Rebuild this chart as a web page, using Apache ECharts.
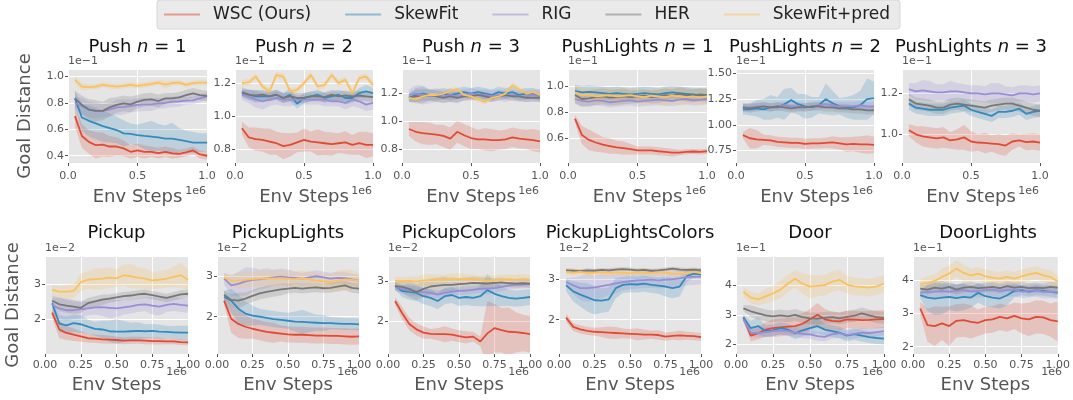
<!DOCTYPE html>
<html><head><meta charset="utf-8">
<script src="https://cdn.jsdelivr.net/npm/echarts@6/dist/echarts.min.js"></script>
<style>html,body{margin:0;padding:0;background:#fff}#c{width:1073px;height:400px}</style>
</head><body><div id="c"></div><script>
// ---------- data ----------
const xSteps = [0.05,0.10,0.15,0.20,0.25,0.30,0.35,0.40,0.45,0.50,0.55,0.60,0.65,0.70,0.75,0.80,0.85,0.90,0.95,1.00];
const methods = ['WSC (Ours)','SkewFit','RIG','HER','SkewFit+pred'];
const panelTitles = ['Push {i|n} = 1','Push {i|n} = 2','Push {i|n} = 3','PushLights {i|n} = 1','PushLights {i|n} = 2','PushLights {i|n} = 3',
  'Pickup','PickupLights','PickupColors','PickupLightsColors','Door','DoorLights'];
const yTickValues = [[0.4,0.6,0.8,1.0],[0.8,1.0,1.2],[0.8,1.0,1.2],[0.6,0.8,1.0],[0.75,1.0,1.25,1.5],[1.0,1.2],
  [2,3],[2,3],[2,3],[2,3],[2,3,4],[2,3,4]];
const yTickDecimals = [1,1,1,1,2,1,0,0,0,0,0,0];
const yOffsetLabels = ['1e\u22121','1e\u22121','1e\u22121','1e\u22121','1e\u22121','1e\u22121','1e\u22122','1e\u22122','1e\u22122','1e\u22122','1e\u22121','1e\u22121'];

// rows: WSC, SkewFit, RIG, HER, SkewFit+pred
const push1Mean = [
 [0.70,0.55,0.505,0.48,0.485,0.47,0.47,0.456,0.43,0.44,0.43,0.43,0.42,0.43,0.418,0.415,0.425,0.44,0.41,0.40],
 [0.835,0.69,0.665,0.645,0.625,0.61,0.595,0.57,0.565,0.557,0.55,0.545,0.54,0.53,0.53,0.52,0.51,0.50,0.50,0.50],
 [0.80,0.777,0.75,0.74,0.74,0.75,0.767,0.77,0.777,0.785,0.79,0.79,0.797,0.80,0.81,0.812,0.818,0.82,0.835,0.85],
 [0.835,0.785,0.75,0.74,0.74,0.767,0.785,0.797,0.79,0.81,0.823,0.828,0.815,0.835,0.835,0.843,0.86,0.873,0.86,0.853],
 [0.975,0.924,0.92,0.924,0.937,0.93,0.924,0.93,0.937,0.93,0.937,0.944,0.955,0.94,0.95,0.955,0.937,0.95,0.955,0.955]];
const push1Spread = [
 [0.08,0.09,0.09,0.10,0.09,0.08,0.07,0.06,0.05,0.05,0.05,0.04,0.04,0.04,0.04,0.03,0.03,0.03,0.03,0.03],
 [0.06,0.10,0.12,0.12,0.12,0.11,0.10,0.10,0.08,0.08,0.10,0.12,0.10,0.10,0.12,0.09,0.08,0.08,0.07,0.07],
 [0.05,0.06,0.06,0.06,0.05,0.05,0.06,0.06,0.05,0.05,0.05,0.05,0.04,0.04,0.04,0.04,0.03,0.03,0.03,0.03],
 [0.06,0.07,0.08,0.08,0.07,0.07,0.06,0.06,0.06,0.05,0.05,0.05,0.05,0.04,0.04,0.04,0.04,0.04,0.04,0.04],
 [0.03,0.03,0.02,0.02,0.02,0.02,0.02,0.02,0.02,0.02,0.02,0.02,0.02,0.03,0.02,0.02,0.02,0.02,0.02,0.02]];

const push2Mean = [
 [0.926,0.87,0.86,0.855,0.845,0.835,0.818,0.825,0.84,0.855,0.845,0.84,0.835,0.83,0.835,0.84,0.825,0.835,0.825,0.825],
 [1.14,1.13,1.12,1.12,1.12,1.13,1.11,1.13,1.075,1.11,1.12,1.13,1.11,1.12,1.13,1.11,1.11,1.14,1.15,1.14],
 [1.13,1.12,1.10,1.09,1.10,1.11,1.10,1.10,1.10,1.10,1.10,1.10,1.10,1.09,1.09,1.08,1.10,1.09,1.07,1.08],
 [1.145,1.13,1.125,1.13,1.12,1.13,1.11,1.12,1.11,1.11,1.12,1.12,1.115,1.13,1.12,1.125,1.12,1.125,1.12,1.115],
 [1.20,1.205,1.24,1.18,1.15,1.25,1.24,1.15,1.16,1.20,1.25,1.18,1.19,1.25,1.20,1.22,1.14,1.23,1.24,1.19]];
const push2Spread = [
 [0.04,0.06,0.07,0.07,0.08,0.07,0.08,0.07,0.06,0.07,0.06,0.08,0.07,0.07,0.06,0.07,0.06,0.07,0.08,0.07],
 [0.02,0.03,0.04,0.03,0.03,0.03,0.03,0.04,0.03,0.03,0.03,0.03,0.03,0.03,0.03,0.04,0.03,0.03,0.04,0.03],
 [0.03,0.04,0.05,0.05,0.04,0.04,0.04,0.04,0.03,0.03,0.03,0.03,0.04,0.03,0.03,0.04,0.04,0.04,0.04,0.04],
 [0.03,0.03,0.03,0.03,0.03,0.03,0.03,0.03,0.03,0.03,0.03,0.03,0.03,0.03,0.03,0.03,0.03,0.03,0.03,0.03],
 [0.02,0.02,0.02,0.02,0.02,0.02,0.02,0.02,0.02,0.02,0.02,0.02,0.02,0.02,0.02,0.02,0.02,0.02,0.02,0.02]];

const push3Mean = [
 [0.945,0.925,0.915,0.91,0.905,0.895,0.875,0.925,0.90,0.88,0.87,0.87,0.865,0.865,0.87,0.885,0.875,0.87,0.865,0.855],
 [1.17,1.19,1.20,1.19,1.19,1.20,1.19,1.20,1.21,1.20,1.21,1.20,1.19,1.21,1.20,1.21,1.19,1.20,1.20,1.19],
 [1.19,1.20,1.19,1.18,1.19,1.18,1.19,1.18,1.19,1.20,1.19,1.19,1.18,1.19,1.18,1.19,1.18,1.18,1.19,1.18],
 [1.17,1.18,1.18,1.19,1.18,1.17,1.18,1.17,1.18,1.18,1.19,1.18,1.17,1.18,1.19,1.18,1.18,1.17,1.17,1.17],
 [1.17,1.16,1.18,1.19,1.19,1.20,1.22,1.23,1.19,1.18,1.16,1.14,1.17,1.18,1.20,1.26,1.23,1.20,1.21,1.19]];
const push3Spread = [
 [0.05,0.07,0.08,0.08,0.07,0.08,0.08,0.08,0.08,0.08,0.07,0.08,0.08,0.07,0.07,0.07,0.07,0.07,0.08,0.08],
 [0.03,0.05,0.05,0.04,0.04,0.04,0.04,0.04,0.04,0.04,0.04,0.04,0.04,0.04,0.04,0.04,0.04,0.04,0.04,0.04],
 [0.04,0.06,0.07,0.05,0.05,0.04,0.05,0.04,0.04,0.04,0.04,0.04,0.04,0.04,0.04,0.04,0.04,0.04,0.04,0.04],
 [0.03,0.05,0.05,0.04,0.04,0.04,0.04,0.04,0.03,0.03,0.03,0.03,0.03,0.03,0.03,0.03,0.03,0.03,0.03,0.03],
 [0.02,0.02,0.02,0.02,0.02,0.02,0.02,0.02,0.02,0.02,0.02,0.02,0.02,0.02,0.02,0.02,0.02,0.02,0.02,0.02]];

const pushLights1Mean = [
 [0.75,0.625,0.587,0.567,0.55,0.54,0.53,0.524,0.516,0.506,0.506,0.506,0.50,0.495,0.49,0.49,0.495,0.498,0.495,0.50],
 [0.96,0.95,0.955,0.95,0.945,0.94,0.945,0.94,0.935,0.94,0.945,0.94,0.935,0.945,0.95,0.945,0.94,0.935,0.93,0.93],
 [0.90,0.885,0.88,0.89,0.885,0.875,0.88,0.885,0.89,0.88,0.885,0.89,0.895,0.89,0.885,0.895,0.90,0.89,0.895,0.90],
 [0.93,0.90,0.905,0.915,0.92,0.91,0.915,0.92,0.915,0.92,0.925,0.915,0.92,0.93,0.925,0.94,0.93,0.925,0.935,0.93],
 [0.95,0.93,0.935,0.92,0.925,0.93,0.92,0.925,0.93,0.92,0.915,0.925,0.92,0.915,0.925,0.92,0.915,0.92,0.91,0.92]];
const pushLights1Spread = [
 [0.03,0.07,0.08,0.07,0.06,0.06,0.05,0.05,0.04,0.03,0.03,0.03,0.03,0.03,0.03,0.02,0.02,0.02,0.02,0.02],
 [0.05,0.05,0.05,0.05,0.05,0.05,0.05,0.05,0.05,0.05,0.05,0.05,0.05,0.05,0.05,0.05,0.05,0.05,0.05,0.05],
 [0.04,0.04,0.04,0.04,0.04,0.04,0.04,0.04,0.04,0.04,0.04,0.04,0.04,0.04,0.04,0.04,0.04,0.04,0.04,0.04],
 [0.06,0.06,0.06,0.06,0.06,0.06,0.06,0.06,0.05,0.05,0.05,0.05,0.05,0.05,0.05,0.05,0.05,0.05,0.05,0.05],
 [0.06,0.06,0.05,0.06,0.06,0.05,0.06,0.06,0.05,0.06,0.06,0.05,0.06,0.07,0.06,0.07,0.06,0.05,0.06,0.06]];

const pushLights2Mean = [
 [0.90,0.87,0.86,0.855,0.85,0.835,0.83,0.825,0.825,0.815,0.82,0.82,0.825,0.83,0.82,0.81,0.815,0.81,0.81,0.805],
 [1.15,1.15,1.16,1.15,1.17,1.17,1.20,1.24,1.20,1.18,1.17,1.19,1.25,1.21,1.18,1.17,1.17,1.19,1.25,1.26],
 [1.17,1.17,1.18,1.18,1.17,1.18,1.19,1.18,1.18,1.17,1.18,1.19,1.20,1.19,1.18,1.18,1.18,1.19,1.18,1.18],
 [1.17,1.16,1.17,1.18,1.17,1.18,1.17,1.16,1.17,1.17,1.18,1.18,1.17,1.17,1.16,1.16,1.15,1.15,1.14,1.14],
 null];
const pushLights2Spread = [
 [0.03,0.10,0.09,0.05,0.05,0.05,0.05,0.05,0.05,0.05,0.05,0.05,0.05,0.06,0.06,0.07,0.07,0.08,0.09,0.08],
 [0.05,0.06,0.08,0.10,0.12,0.10,0.15,0.12,0.10,0.12,0.10,0.08,0.15,0.12,0.08,0.10,0.12,0.14,0.20,0.16],
 [0.04,0.04,0.04,0.04,0.04,0.04,0.04,0.04,0.04,0.04,0.04,0.04,0.04,0.04,0.04,0.04,0.04,0.04,0.04,0.04],
 [0.04,0.04,0.04,0.04,0.04,0.04,0.04,0.04,0.04,0.04,0.04,0.04,0.04,0.04,0.04,0.04,0.04,0.04,0.04,0.04],
 null];

const pushLights3Mean = [
 [1.02,1.00,0.99,0.985,0.98,0.985,0.97,0.975,0.985,0.965,0.96,0.958,0.955,0.952,0.945,0.965,0.97,0.962,0.965,0.96],
 [1.15,1.13,1.125,1.12,1.12,1.12,1.13,1.135,1.14,1.12,1.11,1.10,1.09,1.11,1.11,1.115,1.125,1.10,1.11,1.115],
 [1.22,1.21,1.215,1.21,1.205,1.205,1.21,1.21,1.205,1.20,1.20,1.195,1.20,1.20,1.195,1.19,1.20,1.20,1.195,1.20],
 [1.17,1.15,1.145,1.14,1.13,1.13,1.145,1.15,1.145,1.14,1.135,1.13,1.14,1.145,1.15,1.15,1.14,1.13,1.12,1.115],
 null];
const pushLights3Spread = [
 [0.03,0.04,0.05,0.05,0.05,0.05,0.04,0.05,0.06,0.05,0.04,0.05,0.04,0.05,0.05,0.04,0.03,0.04,0.04,0.04],
 [0.03,0.03,0.03,0.03,0.03,0.03,0.03,0.03,0.03,0.03,0.03,0.03,0.03,0.03,0.03,0.03,0.03,0.03,0.03,0.03],
 [0.03,0.04,0.05,0.05,0.04,0.04,0.05,0.04,0.04,0.04,0.04,0.04,0.05,0.05,0.04,0.04,0.04,0.04,0.04,0.04],
 [0.03,0.03,0.03,0.03,0.03,0.03,0.03,0.03,0.03,0.03,0.03,0.03,0.03,0.03,0.03,0.03,0.03,0.03,0.03,0.03],
 null];

const pickupMean = [
 [2.18,1.70,1.60,1.55,1.50,1.45,1.44,1.42,1.41,1.40,1.38,1.39,1.39,1.38,1.37,1.37,1.36,1.36,1.34,1.33],
 [2.45,1.87,1.82,1.88,1.85,1.78,1.72,1.70,1.65,1.64,1.64,1.65,1.66,1.65,1.66,1.64,1.63,1.62,1.61,1.61],
 [2.40,2.30,2.25,2.25,2.28,2.30,2.33,2.34,2.32,2.30,2.33,2.36,2.40,2.42,2.38,2.35,2.40,2.43,2.40,2.38],
 [2.52,2.42,2.38,2.35,2.32,2.45,2.50,2.55,2.58,2.62,2.65,2.67,2.70,2.72,2.68,2.64,2.60,2.65,2.70,2.72],
 [2.83,2.78,2.78,2.80,3.05,3.12,3.14,3.15,3.18,3.16,3.25,3.22,3.18,3.15,3.10,3.12,3.15,3.20,3.25,3.12]];
const pickupSpread = [
 [0.15,0.25,0.20,0.18,0.15,0.12,0.12,0.12,0.12,0.10,0.10,0.10,0.10,0.10,0.10,0.10,0.08,0.08,0.08,0.08],
 [0.10,0.25,0.25,0.25,0.25,0.20,0.20,0.25,0.30,0.35,0.30,0.25,0.25,0.20,0.20,0.20,0.18,0.18,0.20,0.20],
 [0.20,0.30,0.30,0.25,0.25,0.20,0.20,0.25,0.30,0.25,0.20,0.20,0.20,0.20,0.25,0.25,0.20,0.20,0.20,0.20],
 [0.15,0.20,0.20,0.20,0.15,0.15,0.15,0.15,0.12,0.12,0.12,0.12,0.12,0.12,0.12,0.12,0.12,0.12,0.12,0.12],
 [0.15,0.15,0.20,0.20,0.25,0.25,0.30,0.30,0.30,0.25,0.30,0.35,0.30,0.30,0.25,0.25,0.25,0.30,0.35,0.30]];

const pickupLightsMean = [
 [2.40,1.95,1.82,1.75,1.70,1.66,1.62,1.60,1.58,1.56,1.55,1.55,1.54,1.53,1.53,1.52,1.52,1.51,1.50,1.51],
 [2.50,2.40,2.20,2.08,2.03,2.00,1.97,1.94,1.92,1.90,1.88,1.87,1.86,1.85,1.84,1.84,1.83,1.82,1.82,1.81],
 [2.95,2.78,2.82,2.88,2.92,2.93,2.96,2.98,3.00,2.98,2.97,2.95,2.98,3.01,2.98,2.95,2.97,2.96,2.93,2.90],
 [2.55,2.42,2.40,2.45,2.52,2.58,2.62,2.65,2.68,2.70,2.72,2.70,2.72,2.73,2.71,2.72,2.75,2.78,2.72,2.70],
 [2.98,2.90,2.90,2.92,2.94,2.95,2.96,2.95,2.96,2.95,2.94,2.96,2.93,2.90,2.88,2.86,2.90,2.93,2.92,2.90]];
const pickupLightsSpread = [
 [0.10,0.35,0.35,0.30,0.25,0.25,0.25,0.25,0.20,0.20,0.20,0.20,0.20,0.20,0.20,0.20,0.20,0.20,0.20,0.20],
 [0.15,0.30,0.35,0.30,0.25,0.20,0.20,0.20,0.20,0.20,0.25,0.30,0.25,0.20,0.20,0.15,0.15,0.15,0.15,0.15],
 [0.15,0.25,0.30,0.35,0.30,0.25,0.25,0.20,0.20,0.20,0.15,0.15,0.15,0.15,0.15,0.15,0.15,0.15,0.15,0.15],
 [0.10,0.15,0.20,0.15,0.15,0.15,0.15,0.15,0.15,0.12,0.12,0.12,0.12,0.12,0.12,0.12,0.12,0.12,0.12,0.12],
 [0.10,0.15,0.20,0.20,0.20,0.20,0.20,0.20,0.20,0.20,0.20,0.20,0.20,0.20,0.20,0.20,0.25,0.25,0.25,0.20]];

const pickupColorsMean = [
 [2.50,2.20,1.93,1.80,1.72,1.69,1.68,1.68,1.67,1.63,1.60,1.62,1.50,1.70,1.83,1.78,1.74,1.73,1.71,1.68],
 [2.88,2.75,2.73,2.70,2.62,2.58,2.50,2.62,2.65,2.58,2.60,2.58,2.62,2.77,2.68,2.62,2.58,2.56,2.58,2.60],
 [2.85,2.80,2.76,2.74,2.72,2.70,2.66,2.70,2.73,2.75,2.76,2.78,2.80,2.81,2.82,2.85,2.88,2.90,2.91,2.92],
 [2.87,2.85,2.80,2.72,2.80,2.86,2.88,2.90,2.90,2.92,2.93,2.95,2.94,2.93,2.95,2.96,2.94,2.93,2.94,2.93],
 [3.00,2.99,3.00,2.98,3.01,3.02,3.03,3.04,3.06,3.04,3.05,3.04,3.02,3.00,3.02,3.03,3.04,3.03,3.05,3.03]];
const pickupColorsSpread = [
 [0.10,0.15,0.15,0.15,0.15,0.12,0.15,0.20,0.15,0.15,0.15,0.12,0.12,0.80,0.60,0.55,0.60,0.50,0.45,0.45],
 [0.10,0.15,0.20,0.20,0.20,0.20,0.20,0.20,0.20,0.20,0.20,0.20,0.25,0.40,0.30,0.25,0.20,0.20,0.20,0.20],
 [0.10,0.10,0.12,0.12,0.10,0.10,0.10,0.10,0.10,0.10,0.10,0.10,0.10,0.15,0.12,0.10,0.10,0.10,0.10,0.10],
 [0.10,0.15,0.20,0.20,0.20,0.20,0.20,0.20,0.15,0.15,0.15,0.15,0.15,0.15,0.12,0.12,0.10,0.10,0.10,0.10],
 [0.10,0.10,0.10,0.12,0.15,0.15,0.12,0.12,0.12,0.15,0.12,0.12,0.10,0.15,0.12,0.12,0.12,0.12,0.12,0.12]];

const pickupLightsColorsMean = [
 [2.05,1.82,1.76,1.72,1.70,1.69,1.68,1.67,1.66,1.65,1.64,1.63,1.63,1.62,1.58,1.60,1.61,1.60,1.59,1.57],
 [2.85,2.70,2.62,2.55,2.48,2.47,2.50,2.78,2.86,2.88,2.87,2.89,2.86,2.84,2.82,2.78,2.82,3.08,3.14,3.12],
 [2.93,2.85,2.78,2.78,2.80,2.83,2.86,2.90,2.93,2.95,2.97,2.98,2.99,2.97,2.99,3.00,3.02,3.05,3.06,3.07],
 [3.22,3.21,3.20,3.22,3.21,3.23,3.22,3.24,3.25,3.24,3.22,3.23,3.21,3.22,3.24,3.26,3.24,3.23,3.24,3.22],
 [3.18,3.16,3.18,3.15,3.16,3.17,3.15,3.17,3.16,3.15,3.17,3.16,3.15,3.17,3.16,3.14,3.13,3.16,3.18,3.15]];
const pickupLightsColorsSpread = [
 [0.10,0.10,0.10,0.10,0.10,0.12,0.15,0.15,0.12,0.12,0.15,0.12,0.10,0.12,0.10,0.10,0.12,0.10,0.10,0.10],
 [0.15,0.25,0.30,0.35,0.35,0.30,0.30,0.25,0.20,0.20,0.20,0.20,0.20,0.20,0.25,0.25,0.25,0.15,0.10,0.10],
 [0.10,0.20,0.30,0.35,0.30,0.30,0.25,0.25,0.20,0.20,0.20,0.20,0.20,0.20,0.20,0.20,0.20,0.20,0.20,0.20],
 [0.05,0.05,0.05,0.05,0.05,0.05,0.05,0.05,0.05,0.05,0.05,0.05,0.05,0.05,0.05,0.05,0.05,0.05,0.05,0.05],
 [0.08,0.08,0.08,0.08,0.08,0.08,0.08,0.08,0.08,0.08,0.08,0.08,0.08,0.08,0.08,0.08,0.08,0.08,0.08,0.08]];

const doorMean = [
 [2.90,2.30,2.38,2.50,2.55,2.58,2.60,2.62,2.70,2.85,3.00,2.85,2.80,2.78,2.85,2.84,2.82,2.83,2.85,2.86],
 [2.92,2.55,2.62,2.45,2.48,2.55,2.50,2.38,2.48,2.55,2.62,2.50,2.45,2.40,2.30,2.35,2.30,2.25,2.22,2.20],
 [2.85,2.40,2.38,2.42,2.45,2.48,2.46,2.40,2.36,2.34,2.28,2.26,2.35,2.38,2.32,2.36,2.40,2.38,2.42,2.45],
 [3.22,3.12,3.05,2.98,2.95,2.98,2.95,3.00,2.92,2.88,2.87,2.90,2.92,2.88,2.93,2.97,3.05,2.98,2.92,2.90],
 [3.77,3.58,3.52,3.62,3.72,3.85,4.05,4.22,4.05,3.95,3.98,4.00,4.12,4.18,4.02,3.96,3.94,3.92,3.96,4.05]];
const doorSpread = [
 [0.10,0.20,0.20,0.25,0.30,0.30,0.30,0.30,0.35,0.35,0.40,0.35,0.30,0.30,0.30,0.30,0.30,0.30,0.30,0.30],
 [0.10,0.25,0.30,0.20,0.20,0.20,0.20,0.20,0.20,0.25,0.25,0.20,0.20,0.20,0.20,0.20,0.20,0.20,0.20,0.20],
 [0.10,0.15,0.15,0.15,0.15,0.15,0.15,0.15,0.15,0.15,0.15,0.15,0.15,0.15,0.15,0.15,0.15,0.15,0.15,0.15],
 [0.10,0.20,0.20,0.20,0.20,0.20,0.20,0.20,0.20,0.20,0.20,0.20,0.20,0.20,0.20,0.20,0.20,0.20,0.20,0.20],
 [0.15,0.20,0.20,0.25,0.25,0.30,0.30,0.30,0.35,0.40,0.35,0.35,0.35,0.35,0.30,0.30,0.30,0.30,0.30,0.30]];

const doorLightsMean = [
 [3.15,2.65,2.62,2.70,2.62,2.78,2.80,2.75,2.72,2.80,2.82,2.90,2.85,2.93,2.85,2.82,2.90,2.88,2.80,2.76],
 [3.55,3.48,3.45,3.48,3.50,3.46,3.50,3.48,3.62,3.52,3.48,3.45,3.55,3.68,3.70,3.66,3.70,3.68,3.65,3.62],
 [3.62,3.65,3.66,3.68,3.65,3.68,3.70,3.66,3.68,3.70,3.72,3.68,3.70,3.72,3.66,3.68,3.70,3.65,3.66,3.64],
 [3.75,3.72,3.78,3.75,3.80,3.72,3.78,3.80,3.76,3.78,3.80,3.76,3.82,3.78,3.80,3.76,3.78,3.76,3.80,3.78],
 [3.88,3.92,3.98,4.10,4.20,4.35,4.22,4.15,4.20,4.12,4.08,4.05,4.10,4.05,4.12,4.18,4.22,4.15,4.10,3.96]];
const doorLightsSpread = [
 [0.20,0.50,0.60,0.50,0.60,0.50,0.50,0.50,0.40,0.40,0.40,0.40,0.40,0.40,0.45,0.50,0.50,0.50,0.50,0.60],
 [0.10,0.40,0.50,0.50,0.40,0.40,0.40,0.30,0.30,0.30,0.30,0.30,0.30,0.20,0.15,0.15,0.15,0.15,0.15,0.15],
 [0.10,0.20,0.20,0.20,0.20,0.20,0.20,0.20,0.20,0.20,0.20,0.20,0.20,0.20,0.20,0.20,0.20,0.20,0.20,0.20],
 [0.10,0.15,0.15,0.15,0.15,0.15,0.15,0.15,0.15,0.15,0.15,0.15,0.15,0.15,0.15,0.15,0.15,0.15,0.15,0.15],
 [0.15,0.20,0.20,0.25,0.25,0.25,0.25,0.20,0.20,0.20,0.20,0.20,0.20,0.20,0.20,0.20,0.20,0.20,0.20,0.20]];

const panelMeans = [push1Mean,push2Mean,push3Mean,pushLights1Mean,pushLights2Mean,pushLights3Mean,
  pickupMean,pickupLightsMean,pickupColorsMean,pickupLightsColorsMean,doorMean,doorLightsMean];
const panelSpreads = [push1Spread,push2Spread,push3Spread,pushLights1Spread,pushLights2Spread,pushLights3Spread,
  pickupSpread,pickupLightsSpread,pickupColorsSpread,pickupLightsColorsSpread,doorSpread,doorLightsSpread];

// ---------- layout / style ----------
const colors = ['#E24A33','#348ABD','#988ED5','#777777','#FBC15E'];
const boxes = [
 {l:68,t:70,w:139,h:93},{l:235,t:70,w:138,h:93},{l:402,t:70,w:138,h:93},
 {l:568,t:70,w:139,h:93},{l:736,t:70,w:138,h:93},{l:902,t:70,w:138,h:93},
 {l:45,t:257,w:143,h:97},{l:217,t:257,w:142,h:97},{l:388,t:257,w:142,h:97},
 {l:559,t:257,w:142,h:97},{l:736,t:257,w:148,h:97},{l:913,t:257,w:150,h:97}];
const yRange = [[0.345,1.05],[0.715,1.28],[0.70,1.37],[0.41,1.122],[0.63,1.532],[0.86,1.314],
 [1.0,3.77],[1.07,3.49],[1.19,3.59],[1.15,3.55],[1.68,4.95],[1.78,4.70]];
const TXT = '#555555';
const FONT = 'DejaVu Sans';

function bandRenderer(color) {
  return function (params, api) {
    if (params.dataIndex !== 0) return null;
    const n = xSteps.length;
    const upper = [], lower = [];
    for (let i = 0; i < n; i++) {
      upper.push(api.coord([api.value(0, i), api.value(2, i)]));
      lower.push(api.coord([api.value(0, i), api.value(1, i)]));
    }
    const pts = upper.concat(lower.reverse());
    const cs = params.coordSys;
    return {
      type:'polygon', shape:{points:pts}, silent:true,
      style:{fill:color, opacity:0.22},
      clipPath:{type:'rect', shape:{x:cs.x, y:cs.y, width:cs.width, height:cs.height}}
    };
  };
}

const grids = [], xAxes = [], yAxes = [], series = [], graphics = [];
boxes.forEach((b, p) => {
  const top = p < 6;
  grids.push({left:b.l, top:b.t, width:b.w, height:b.h, show:true, backgroundColor:'#E5E5E5', borderWidth:0, containLabel:false});
  xAxes.push({
    type:'value', gridIndex:p, min:0, max:1, interval: top ? 0.5 : 0.25,
    axisLine:{show:false},
    axisTick:{show:true, length:3, lineStyle:{color:TXT, width:1}},
    axisLabel:{color:TXT, fontSize:11, fontFamily:FONT, margin: top ? 8 : 6,
      formatter: v => v.toFixed(top ? 1 : 2)},
    splitLine:{show:true, lineStyle:{color:'#ffffff', width:1}},
    name:'Env Steps', nameLocation:'middle', nameGap: top ? 25 : 22,
    nameTextStyle:{color:TXT, fontSize:18, fontFamily:FONT}
  });
  const dec = yTickDecimals[p];
  yAxes.push({
    type:'value', gridIndex:p, min:yRange[p][0], max:yRange[p][1],
    axisLine:{show:false},
    axisTick:{show:true, length:3, lineStyle:{color:TXT, width:1}, customValues:yTickValues[p]},
    axisLabel:{color:TXT, fontSize:11, fontFamily:FONT, margin:4, customValues:yTickValues[p],
      formatter: v => Number(v).toFixed(dec)},
    splitLine:{show:true, lineStyle:{color:'#ffffff', width:1}},
    name: yOffsetLabels[p], nameLocation:'end', nameGap:3,
    nameTextStyle:{color:TXT, fontSize:11, fontFamily:FONT, align:'left', verticalAlign:'bottom'}
  });
  const means = panelMeans[p], spreads = panelSpreads[p];
  means.forEach((row, m) => {
    if (!row) return;
    const sd = spreads[m];
    series.push({
      type:'custom', name:'_band', xAxisIndex:p, yAxisIndex:p, silent:true, z:1,
      encode:{x:0, y:[1,2]},
      renderItem: bandRenderer(colors[m]),
      data: xSteps.map((x, i) => [x, row[i] - sd[i], row[i] + sd[i]])
    });
  });
  means.forEach((row, m) => {
    if (!row) return;
    series.push({
      type:'line', name:methods[m], xAxisIndex:p, yAxisIndex:p, symbol:'none', silent:true,
      color:colors[m], lineStyle:{color:colors[m], width:1.8}, z:3,
      data: xSteps.map((x, i) => [x, row[i]])
    });
  });
  graphics.push({type:'text', x: b.l + b.w/2, y: top ? 47 : 233, z:10,
    style:{text:panelTitles[p], fill:'#111', font:'18px "DejaVu Sans"', align:'center', verticalAlign:'middle',
      rich:{i:{fontStyle:'italic', fontSize:18, fontFamily:FONT, fill:'#111'}}}});
  graphics.push({type:'text', x: b.l + b.w - 1, y: top ? 191 : 372, z:10,
    style:{text:'1e6', fill:TXT, font:'11px "DejaVu Sans"', align:'right', verticalAlign:'middle'}});
});
graphics.push({type:'rect', shape:{x:716, y:220, width:19, height:28}, style:{fill:'#ffffff'}, z:20});
graphics.push({type:'text', x:25, y:116, rotation:Math.PI/2, z:10,
  style:{text:'Goal Distance', fill:TXT, font:'18px "DejaVu Sans"', align:'center', verticalAlign:'middle'}});
graphics.push({type:'text', x:13, y:305, rotation:Math.PI/2, z:10,
  style:{text:'Goal Distance', fill:TXT, font:'18px "DejaVu Sans"', align:'center', verticalAlign:'middle'}});

const chart = echarts.init(document.getElementById('c'), null, {renderer:'canvas'});
chart.setOption({
  animation:false,
  backgroundColor:'#ffffff',
  legend:{
    data: methods, left:157, top:0, icon:'rect', itemWidth:36, itemHeight:2, itemGap:34,
    padding:[6,10,6,7], backgroundColor:'rgba(232,232,232,0.9)', borderColor:'#d6d6d6', borderWidth:1, borderRadius:3,
    itemStyle:{opacity:0.5},
    textStyle:{fontSize:17, color:'#222', fontFamily:FONT, padding:[0,0,0,8]},
    selectedMode:false
  },
  grid: grids, xAxis: xAxes, yAxis: yAxes, series: series, graphic: graphics
});
</script></body></html>
